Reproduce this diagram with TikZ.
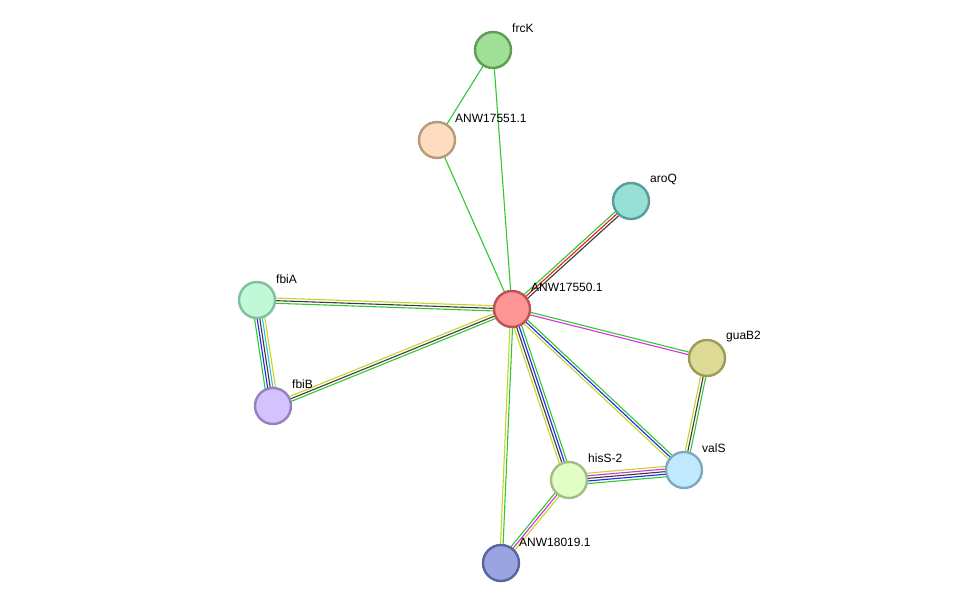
\documentclass[tikz,border=0pt]{standalone}
\usepackage{fontspec}
\setmainfont{Liberation Sans}
\usetikzlibrary{calc}
\pgfdeclarelayer{bg}
\pgfsetlayers{bg,main}
\definecolor{eGreen}{RGB}{50,200,50}
\definecolor{eYellow}{RGB}{195,215,40}
\definecolor{eBlue}{RGB}{30,40,235}
\definecolor{eBlack}{RGB}{60,60,60}
\definecolor{eMagenta}{RGB}{215,50,215}
\definecolor{eCyan}{RGB}{60,185,225}
\definecolor{eRed}{RGB}{235,30,30}
\definecolor{fFrcK}{HTML}{A0E096}\definecolor{sFrcK}{HTML}{5F9D55}
\definecolor{fA551}{HTML}{FDDCBF}\definecolor{sA551}{HTML}{B89A7B}
\definecolor{fAroQ}{HTML}{98DFD6}\definecolor{sAroQ}{HTML}{5A9D96}
\definecolor{fA550}{HTML}{FE9494}\definecolor{sA550}{HTML}{B85656}
\definecolor{fFbiA}{HTML}{C0F8D8}\definecolor{sFbiA}{HTML}{80C09A}
\definecolor{fFbiB}{HTML}{D4C2FE}\definecolor{sFbiB}{HTML}{9482C0}
\definecolor{fGuaB}{HTML}{DEDB96}\definecolor{sGuaB}{HTML}{9E9B56}
\definecolor{fValS}{HTML}{C0E8FE}\definecolor{sValS}{HTML}{80A8C0}
\definecolor{fHisS}{HTML}{E2FEC6}\definecolor{sHisS}{HTML}{A2BE86}
\definecolor{fA019}{HTML}{9AA4E0}\definecolor{sA019}{HTML}{5A64A0}
\tikzset{
  prot/.style 2 args={circle, draw=#2, fill=#1, line width=2.4pt, minimum size=36pt, inner sep=0pt},
  lab/.style={anchor=west, font=\fontsize{12}{14}\selectfont, inner sep=0pt},
  eline/.style={line width=1.1pt},
}
\newcommand\medge[3]{%
  \foreach \cc/\oo in {#3}{%
    \draw[eline, \cc] ($(#1.center)!\oo pt!90:(#2.center)$) -- ($(#2.center)!\oo pt!-90:(#1.center)$);
  }%
}
\begin{document}
\begin{tikzpicture}[x=1pt,y=-1pt]
\useasboundingbox (0,0) rectangle (976,609);
% nodes
\node[prot={fFrcK}{sFrcK}] (frcK) at (493,50) {};
\node[prot={fA551}{sA551}] (a551) at (437,140) {};
\node[prot={fAroQ}{sAroQ}] (aroQ) at (631,201) {};
\node[prot={fA550}{sA550}] (a550) at (512,309) {};
\node[prot={fFbiA}{sFbiA}] (fbiA) at (257,300) {};
\node[prot={fFbiB}{sFbiB}] (fbiB) at (273,406) {};
\node[prot={fGuaB}{sGuaB}] (guaB2) at (707,358) {};
\node[prot={fValS}{sValS}] (valS) at (684,470) {};
\node[prot={fHisS}{sHisS}] (hisS) at (569,480) {};
\node[prot={fA019}{sA019}] (a019) at (501,563) {};
% labels
\node[lab] (lfrcK) at (512,28) {frcK};
\node[lab] (la551) at (455,118) {ANW17551.1};
\node[lab] (laroQ) at (650,179) {aroQ};
\node[lab] (la550) at (531,287) {ANW17550.1};
\node[lab] (lfbiA) at (276,279) {fbiA};
\node[lab] (lfbiB) at (292,384) {fbiB};
\node[lab] (lguaB2) at (726,337) {guaB2};
\node[lab] (lvalS) at (702,448) {valS};
\node[lab] (lhisS) at (588,458) {hisS-2};
\node[lab] (la019) at (519,542) {ANW18019.1};
% edges
\begin{pgfonlayer}{bg}
\fill[white] (0,0) rectangle (976,609);
\medge{frcK}{a551}{eGreen/0}
\medge{frcK}{a550}{eGreen/0}
\medge{a551}{a550}{eGreen/0}
\medge{a550}{aroQ}{eGreen/2.6, eRed/0, eBlack/-2.6}
\medge{fbiA}{a550}{eYellow/2.6, eBlack/0, eGreen/-2.6}
\medge{fbiA}{fbiB}{eYellow/5.2, eCyan/2.6, eBlack/0, eBlue/-2.6, eGreen/-5.2}
\medge{fbiB}{a550}{eYellow/2.6, eBlack/0, eGreen/-2.6}
\medge{a550}{guaB2}{eGreen/1.3, eMagenta/-1.3}
\medge{a550}{valS}{eGreen/2.6, eBlue/0, eYellow/-2.6}
\medge{a550}{hisS}{eGreen/3.9, eBlue/1.3, eBlack/-1.3, eYellow/-3.9}
\medge{a550}{a019}{eGreen/1.3, eYellow/-1.3}
\medge{hisS}{valS}{eYellow/5.2, eMagenta/2.6, eBlack/0, eBlue/-2.6, eGreen/-5.2}
\medge{hisS}{a019}{eYellow/2.6, eMagenta/0, eGreen/-2.6}
\medge{guaB2}{valS}{eGreen/2.6, eBlack/0, eYellow/-2.6}
\end{pgfonlayer}
\end{tikzpicture}
\end{document}
